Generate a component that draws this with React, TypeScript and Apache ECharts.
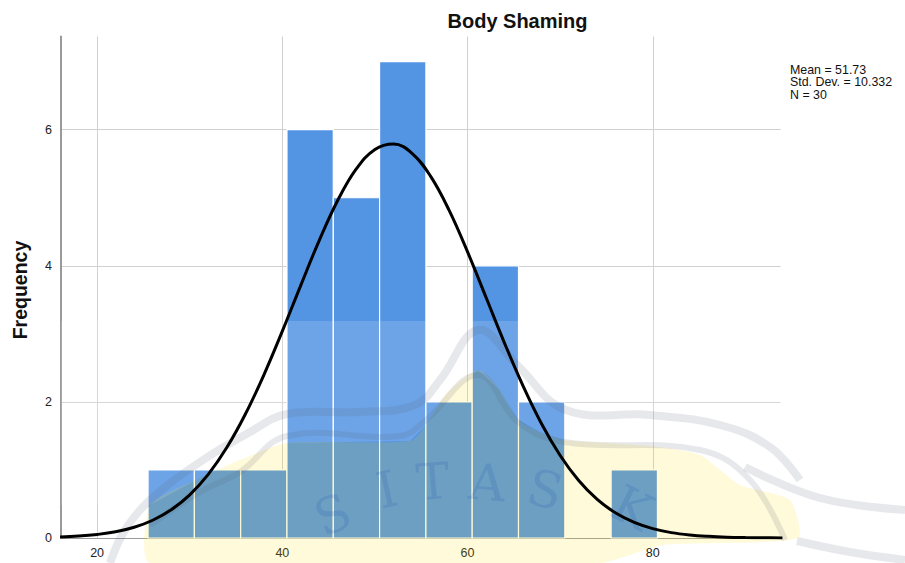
import React, { useEffect, useRef } from 'react';
import * as echarts from 'echarts';

// ---- data ----
const binEdges = [25.5, 30.5, 35.5, 40.5, 45.5, 50.5, 55.5, 60.5, 65.5, 70.5, 75.5, 80.5];
const counts = [1, 1, 1, 6, 5, 7, 2, 4, 2, 0, 1];
const xTicks = [20, 40, 60, 80];
const yTicks = [0, 2, 4, 6];
const curveX = [16, 18, 20, 22, 24, 26, 28, 30, 32, 34, 36, 38, 40, 42, 44, 46, 48, 50, 52, 54, 56, 58, 60, 62, 64, 66, 68, 70, 72, 74, 76, 78, 80, 82, 84, 86, 88, 90, 92, 94];
const curveY = [0.015, 0.028, 0.052, 0.092, 0.158, 0.261, 0.414, 0.634, 0.935, 1.329, 1.818, 2.395, 3.04, 3.717, 4.378, 4.967, 5.427, 5.711, 5.79, 5.654, 5.318, 4.818, 4.204, 3.534, 2.861, 2.232, 1.676, 1.213, 0.845, 0.567, 0.367, 0.229, 0.137, 0.079, 0.044, 0.024, 0.012, 0.006, 0.003, 0.001];
const chartTitle = 'Body Shaming';
const yName = 'Frequency';
const statsLines = ['Mean = 51.73', 'Std. Dev. = 10.332', 'N = 30'];

// ---- background watermark (decoration, pixel geometry) ----
const wmBoundary = [[150, 505], [200, 478], [240, 460], [287, 443], [410, 441], [426, 425], [445, 395], [478, 370], [500, 390], [518, 420], [540, 432], [564, 440], [650, 446], [700, 455], [740, 485], [790, 500]];
const wmRingA = [[110, 563], [125, 530], [150, 500], [200, 462], [250, 432], [287, 414], [360, 412], [415, 405], [440, 380], [478, 330], [517, 365], [566, 410], [650, 415], [720, 425], [770, 447], [800, 480]];
const wmRingB = [[150, 525], [200, 492], [240, 472], [287, 436], [400, 436], [426, 420], [478, 375], [518, 422], [564, 442], [700, 450], [750, 480], [785, 540]];
const wmRingC = [[745, 467], [820, 498], [905, 510]];
const wmRingD = [[797, 541], [850, 552], [905, 560]];
const wmLetters = [
  { t: 'S', x: 333, y: 515, r: 0.39 },
  { t: 'I', x: 387, y: 490, r: 0.22 },
  { t: 'T', x: 433, y: 482, r: 0.08 },
  { t: 'A', x: 487, y: 483, r: -0.08 },
  { t: 'S', x: 545, y: 490, r: -0.25 },
  { t: 'K', x: 632, y: 508, r: -0.47 },
];

const FONT = '"Liberation Sans", Arial, sans-serif';

export default function App() {
  const ref = useRef<HTMLDivElement>(null);
  useEffect(() => {
    if (!ref.current) return;
    const chart = echarts.init(ref.current, undefined, { renderer: 'svg' });

    const bins = counts
      .map((c, i) => [binEdges[i], binEdges[i + 1], c])
      .filter((d) => d[2] > 0);

    const veil = [[61, 321], [905, 321], [905, 500], ...[...wmBoundary].reverse(), [61, 505]];
    const yellow = [[150, 563], ...wmBoundary, [798, 538], [663, 545], [600, 563]];

    const ring = (pts: number[][], w: number) => ({
      type: 'polyline',
      z: 3,
      silent: true,
      shape: { points: pts, smooth: 0.4 },
      style: { stroke: 'rgba(95,100,120,0.15)', lineWidth: w, fill: null },
    });

    const option: any = {
      animation: false,
      backgroundColor: '#ffffff',
      grid: { left: 61, right: 124.4, top: 36.5, bottom: 25, containLabel: false, outerBoundsMode: 'none' },
      xAxis: {
        type: 'value',
        min: 16.1,
        max: 93.8,
        axisLine: { show: true, onZero: false, lineStyle: { color: '#9a9a9a', width: 1 } },
        axisTick: { show: false, customValues: xTicks },
        axisLabel: { customValues: xTicks, margin: 8, fontSize: 12.5, color: '#222', fontFamily: FONT },
        splitLine: { show: true, lineStyle: { color: '#d0d0d0', width: 1 } },
      },
      yAxis: {
        type: 'value',
        min: 0,
        max: 7.37,
        axisLine: { show: true, lineStyle: { color: '#9a9a9a', width: 2 } },
        axisTick: { show: false, customValues: yTicks },
        axisLabel: { customValues: yTicks, margin: 9, fontSize: 12.5, color: '#222', fontFamily: FONT },
        splitLine: { show: true, lineStyle: { color: '#d0d0d0', width: 1 } },
      },
      graphic: [
        { type: 'polygon', z: 3, silent: true, shape: { points: veil }, style: { fill: 'rgba(255,255,255,0.15)' } },
        { type: 'polygon', z: 3, silent: true, shape: { points: yellow, smooth: 0.2 }, style: { fill: 'rgba(255,222,0,0.15)' } },
        ring(wmRingA, 8),
        ring(wmRingB, 6),
        ring(wmRingC, 8),
        ring(wmRingD, 8),
        ...wmLetters.map((l) => ({
          type: 'text',
          z: 3,
          silent: true,
          x: l.x,
          y: l.y,
          rotation: l.r,
          style: {
            text: l.t,
            fontSize: 50,
            fontFamily: '"DejaVu Serif", "Liberation Serif", serif',
            fill: 'rgba(30,70,190,0.14)',
            align: 'center',
            verticalAlign: 'middle',
          },
        })),
        {
          type: 'text',
          z: 10,
          x: 517.5,
          y: 20.5,
          style: { text: chartTitle, fontSize: 20, fontWeight: 'bold', fontFamily: FONT, fill: '#111', align: 'center', verticalAlign: 'middle' },
        },
        {
          type: 'text',
          z: 10,
          x: 20,
          y: 290,
          rotation: Math.PI / 2,
          style: { text: yName, fontSize: 19.5, fontWeight: 'bold', fontFamily: FONT, fill: '#111', align: 'center', verticalAlign: 'middle' },
        },
        ...statsLines.map((s, i) => ({
          type: 'text',
          z: 10,
          x: 790,
          y: 69.6 + i * 12.6,
          style: { text: s, fontSize: 12.4, lineHeight: 12.4, fontFamily: FONT, fill: '#111', align: 'left', verticalAlign: 'middle' },
        })),
      ],
      series: [
        {
          type: 'custom',
          z: 2,
          data: bins,
          encode: { x: [0, 1], y: 2 },
          renderItem: (params: any, api: any) => {
            const p0 = api.coord([api.value(0), api.value(2)]);
            const p1 = api.coord([api.value(1), 0]);
            return {
              type: 'rect',
              shape: { x: p0[0], y: p0[1], width: p1[0] - p0[0], height: p1[1] - p0[1] },
              style: { fill: '#5394e3', stroke: '#ffffff', lineWidth: 1.2 },
            };
          },
        },
        {
          type: 'line',
          z: 5,
          data: curveX.map((x, i) => [x, curveY[i]]),
          smooth: 0.4,
          showSymbol: false,
          clip: true,
          lineStyle: { color: '#000', width: 3 },
        },
      ],
    };
    chart.setOption(option);
    return () => chart.dispose();
  }, []);
  return <div ref={ref} style={{ position: 'fixed', left: 0, top: 0, width: 905, height: 563 }} />;
}
